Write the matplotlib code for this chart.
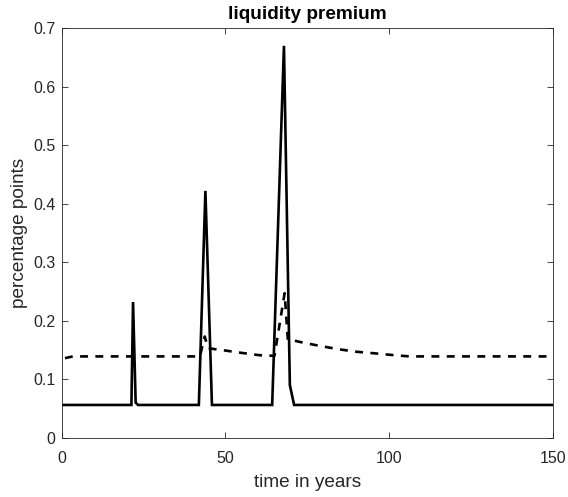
import matplotlib
matplotlib.use("Agg")
import matplotlib.pyplot as plt

plt.rcParams['font.family'] = ['Liberation Sans', 'DejaVu Sans']

# solid line: liquidity premium (key points)
t_solid = [0, 21.3, 21.8, 22.6, 23.3, 41.9, 43.9, 45.9, 64.3, 67.9, 69.7, 71.0, 150]
v_solid = [0.056, 0.056, 0.232, 0.060, 0.056, 0.056, 0.422, 0.056, 0.056, 0.670, 0.090, 0.056, 0.056]

# dashed line
t_dash = [1, 3.4, 42.2, 43.7, 44.7, 50, 55, 60.5, 65, 68.1, 69.1, 70.2, 74.2, 79.8, 84.9,
          90, 96.1, 101.7, 106.3, 150]
v_dash = [0.136, 0.139, 0.139, 0.173, 0.153, 0.149, 0.145, 0.141, 0.140, 0.247, 0.167, 0.167,
          0.162, 0.156, 0.151, 0.147, 0.144, 0.141, 0.139, 0.139]

x_ticks = [0, 50, 100, 150]
y_ticks = [0, 0.1, 0.2, 0.3, 0.4, 0.5, 0.6, 0.7]
y_tick_labels = ['0', '0.1', '0.2', '0.3', '0.4', '0.5', '0.6', '0.7']

fig = plt.figure(figsize=(5.68, 4.97), dpi=100)
ax = fig.add_axes([0.1086, 0.1193, 0.8645, 0.8238])

ax.plot(t_solid, v_solid, color='black', lw=1.9, solid_joinstyle='miter')
ax.plot(t_dash, v_dash, color='black', lw=1.9, ls=(0, (3.0, 2.8)))

ax.set_xlim(0, 150)
ax.set_ylim(0, 0.7)
ax.set_xticks(x_ticks)
ax.set_yticks(y_ticks)
ax.set_yticklabels(y_tick_labels)
ax.tick_params(direction='in', top=True, right=True, length=4, width=0.6,
               labelsize=11.5, colors='#262626', labelcolor='#262626')
ax.tick_params(axis='x', pad=9.5)
ax.tick_params(axis='y', pad=4.5)
for s in ax.spines.values():
    s.set_linewidth(0.6)
    s.set_color('#262626')

ax.set_title('liquidity premium', fontsize=13.7, fontweight='bold', pad=7)
ax.set_xlabel('time in years', fontsize=13.7, color='#262626', labelpad=6)
ax.set_ylabel('percentage points', fontsize=13.7, color='#262626', labelpad=4)

fig.savefig('out.png', dpi=100)
